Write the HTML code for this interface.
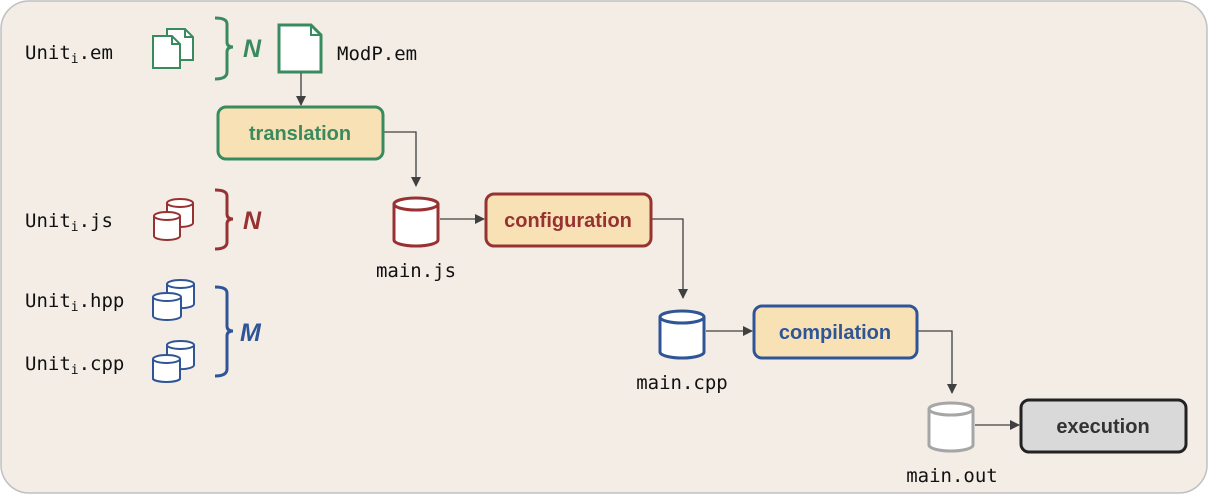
<!DOCTYPE html>
<html><head><meta charset="utf-8"><style>
html,body{margin:0;padding:0;background:#fff;}
svg{display:block;}
.m{font-family:"DejaVu Sans Mono","Liberation Mono",monospace;font-size:19px;fill:#111;}
.b{font-family:"Liberation Sans",sans-serif;font-weight:bold;font-size:20px;text-anchor:middle;}
.L{font-family:"Liberation Sans",sans-serif;font-weight:bold;font-style:italic;font-size:25px;}
</style></head><body>
<svg width="1209" height="499" viewBox="0 0 1209 499">
<defs>
<marker id="a" markerWidth="10" markerHeight="10" refX="9" refY="5" orient="auto" markerUnits="userSpaceOnUse"><path d="M0,0 L10,5 L0,10 z" fill="#404040"/></marker>
</defs>
<rect x="1" y="1" width="1206" height="492" rx="28" fill="#f3ede6" stroke="#c0c0c0" stroke-width="1.5"/>

<text class="m" x="25" y="59">Unit<tspan font-size="13" dy="4">i</tspan><tspan dy="-4">.em</tspan></text>
<text class="m" x="25" y="227">Unit<tspan font-size="13" dy="4">i</tspan><tspan dy="-4">.js</tspan></text>
<text class="m" x="25" y="307">Unit<tspan font-size="13" dy="4">i</tspan><tspan dy="-4">.hpp</tspan></text>
<text class="m" x="25" y="370">Unit<tspan font-size="13" dy="4">i</tspan><tspan dy="-4">.cpp</tspan></text>

<g stroke="#3a8a5f" stroke-width="2" fill="#fff" stroke-linejoin="miter">
<path d="M167,29 H185 L193,37 V60 H167 Z"/><path d="M185,29 V37 H193" fill="none"/>
<path d="M153,36 H172 L180,44 V68 H153 Z"/><path d="M172,36 V44 H180" fill="none"/>
<path d="M279,25 H311 L321,35 V72 H279 Z" stroke-width="3"/><path d="M311,25 V35 H321" fill="none" stroke-width="2"/>
</g>
<text class="m" x="337" y="60">ModP.em</text>

<path d="M215,18 Q227,18 227,24 V42 Q227,47 233,47 Q227,47 227,52 V72 Q227,79 215,79" fill="none" stroke="#3a8a5f" stroke-width="3"/>
<text class="L" x="243" y="57" fill="#3a8a5f">N</text>
<path d="M215,190 Q227,190 227,196 V214 Q227,219 233,219 Q227,219 227,224 V242 Q227,249 215,249" fill="none" stroke="#983232" stroke-width="3"/>
<text class="L" x="243" y="229" fill="#983232">N</text>
<path d="M215,287 Q227,287 227,293 V326 Q227,331 233,331 Q227,331 227,336 V369 Q227,376 215,376" fill="none" stroke="#2f5597" stroke-width="3"/>
<text class="L" x="240" y="341" fill="#2f5597">M</text>

<g fill="#fff" stroke-width="2">
<g stroke="#983232">
<path d="M167,203 V223 A13,4 0 0 0 193,223 V203"/><ellipse cx="180" cy="203" rx="13" ry="4"/>
<path d="M154,216 V236 A13,4 0 0 0 180,236 V216"/><ellipse cx="167" cy="216" rx="13" ry="4"/>
</g>
<g stroke="#2f5597">
<path d="M167,284 V304 A13,4 0 0 0 194,304 V284"/><ellipse cx="180.5" cy="284" rx="13.5" ry="4"/>
<path d="M153,297 V316 A14,4 0 0 0 181,316 V297"/><ellipse cx="167" cy="297" rx="14" ry="4"/>
<path d="M167,345 V365 A13,4 0 0 0 194,365 V345"/><ellipse cx="180.5" cy="345" rx="13.5" ry="4"/>
<path d="M153,359 V379 A14,4 0 0 0 180,379 V359"/><ellipse cx="166.5" cy="359" rx="13.5" ry="4"/>
</g>
</g>

<g stroke="#404040" stroke-width="1.3" fill="none" marker-end="url(#a)">
<path d="M301,73 V105"/>
<path d="M384,132 H416 V186"/>
<path d="M440,219 H484"/>
<path d="M652,219 H683 V298"/>
<path d="M706,331 H752"/>
<path d="M918,331 H952 V393"/>
<path d="M975,425 H1019"/>
</g>

<rect x="218" y="107" width="165" height="52" rx="8" fill="#f8e1b4" stroke="#3a8a5f" stroke-width="3"/>
<text class="b" x="300" y="140" fill="#3a8a5f">translation</text>
<rect x="486" y="194" width="165" height="52" rx="8" fill="#f8e1b4" stroke="#983232" stroke-width="3"/>
<text class="b" x="568" y="227" fill="#983232">configuration</text>
<rect x="754" y="306" width="163" height="52" rx="8" fill="#f8e1b4" stroke="#2f5597" stroke-width="3"/>
<text class="b" x="835" y="339" fill="#2f5597">compilation</text>
<rect x="1021" y="400" width="165" height="52" rx="8" fill="#d9d9d9" stroke="#222" stroke-width="3"/>
<text class="b" x="1103" y="433" fill="#333">execution</text>

<g fill="#fff" stroke-width="3">
<g stroke="#983232"><path d="M394,204 V240 A22,6 0 0 0 438,240 V204"/><ellipse cx="416" cy="204" rx="22" ry="6"/></g>
<g stroke="#2f5597"><path d="M660,317 V352 A22,6 0 0 0 704,352 V317"/><ellipse cx="682" cy="317" rx="22" ry="6"/></g>
<g stroke="#a6a6a6"><path d="M929,409 V445 A22,6 0 0 0 973,445 V409"/><ellipse cx="951" cy="409" rx="22" ry="6"/></g>
</g>
<text class="m" x="416" y="277" text-anchor="middle">main.js</text>
<text class="m" x="682" y="389" text-anchor="middle">main.cpp</text>
<text class="m" x="952" y="482" text-anchor="middle">main.out</text>
</svg>
</body></html>
